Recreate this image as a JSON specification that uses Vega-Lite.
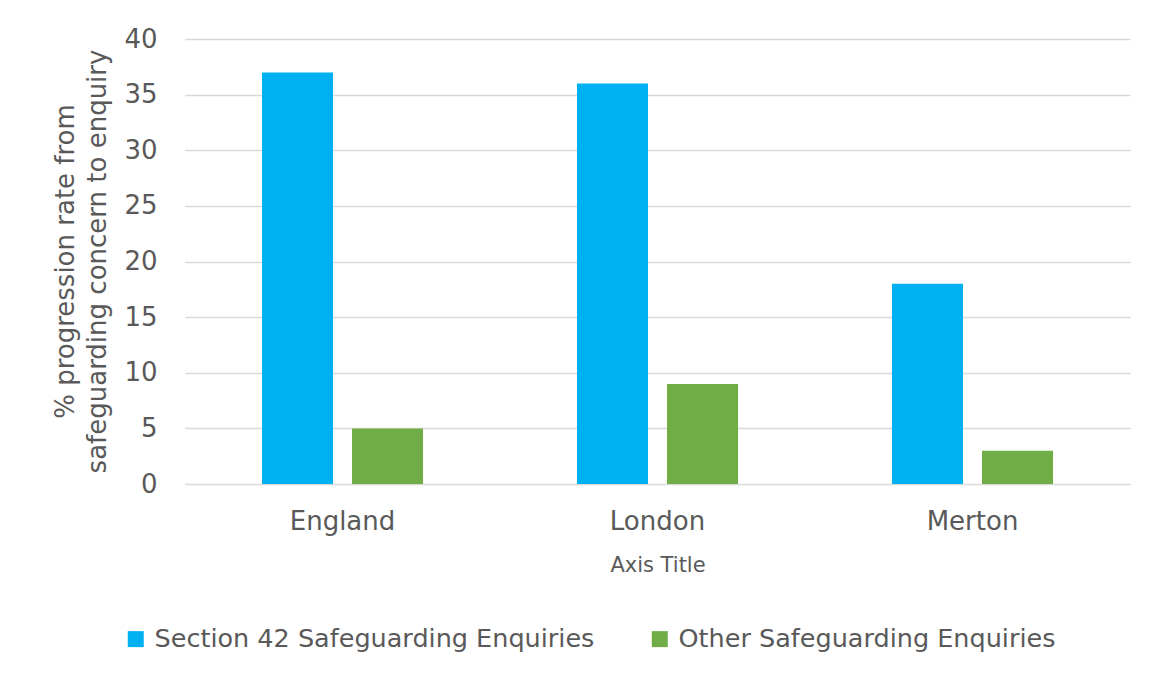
{
  "$schema": "https://vega.github.io/schema/vega-lite/v6.json",
  "autosize": "none",
  "width": 945,
  "height": 445,
  "padding": {"left": 185, "top": 39, "right": 19, "bottom": 191},
  "background": "white",
  "data": {"values": [
    {"area": "England", "type": "Section 42 Safeguarding Enquiries", "value": 37},
    {"area": "England", "type": "Other Safeguarding Enquiries", "value": 5},
    {"area": "London", "type": "Section 42 Safeguarding Enquiries", "value": 36},
    {"area": "London", "type": "Other Safeguarding Enquiries", "value": 9},
    {"area": "Merton", "type": "Section 42 Safeguarding Enquiries", "value": 18},
    {"area": "Merton", "type": "Other Safeguarding Enquiries", "value": 3}
  ]},
  "mark": {"type": "bar"},
  "encoding": {
    "x": {"field": "area", "type": "nominal", "sort": ["England", "London", "Merton"],
      "scale": {"paddingInner": 0, "paddingOuter": 0},
      "axis": {"title": "Axis Title", "labelAngle": 0, "labelFontSize": 26, "labelPadding": 24, "ticks": false, "domain": false,
        "titleFontSize": 21, "titleFontWeight": "normal", "titleY": 81, "titleBaseline": "middle"}},
    "xOffset": {"field": "type", "type": "nominal", "sort": ["Section 42 Safeguarding Enquiries", "Other Safeguarding Enquiries"],
      "scale": {"paddingInner": 0.211, "paddingOuter": 0.855}},
    "y": {"field": "value", "type": "quantitative", "scale": {"domain": [0, 40]},
      "axis": {"title": ["% progression rate from", "safeguarding concern to enquiry"], "values": [0,5,10,15,20,25,30,35,40], "labelOverlap": false,
        "labelFontSize": 26, "labelPadding": 28, "ticks": false, "domain": false,
        "titleFontSize": 26, "titleFontWeight": "normal", "titleAngle": -90, "titleX": -120, "titleY": 222, "titleAlign": "center", "titleBaseline": "middle", "titleLineHeight": 32}},
    "color": {"field": "type", "type": "nominal", "sort": ["Section 42 Safeguarding Enquiries", "Other Safeguarding Enquiries"],
      "scale": {"domain": ["Section 42 Safeguarding Enquiries", "Other Safeguarding Enquiries"], "range": ["#00B0F0", "#70AD47"]},
      "legend": {"title": null, "orient": "none", "direction": "horizontal", "legendX": -62, "legendY": 587, "padding": 0,
        "symbolType": "square", "symbolSize": 256, "symbolStrokeWidth": 0, "labelFontSize": 25.5, "labelOffset": 6, "columnPadding": 52, "labelLimit": 600}}
  },
  "config": {
    "font": "DejaVu Sans",
    "view": {"stroke": null},
    "axis": {"labelColor": "#595959", "titleColor": "#595959", "gridColor": "#d9d9d9", "gridWidth": 1.5, "labelFont": "DejaVu Sans", "titleFont": "DejaVu Sans"},
    "axisX": {"grid": false},
    "legend": {"labelColor": "#595959", "labelFont": "DejaVu Sans"}
  }
}
